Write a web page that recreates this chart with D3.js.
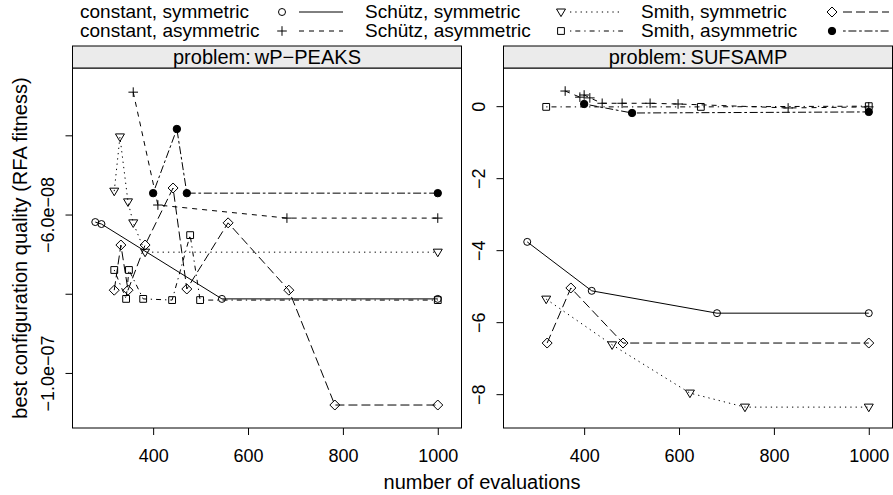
<!DOCTYPE html>
<html>
<head>
<meta charset="utf-8">
<script src="https://cdn.jsdelivr.net/npm/d3@7"></script>
<style>
  body { margin: 0; background: #fff; }
  svg text { font-family: "Liberation Sans", Arial, Helvetica, sans-serif; fill: #000; }
</style>
</head>
<body>
<svg id="chart" width="893" height="495"></svg>
<script>
// legend order: constant sym, constant asym, Schütz sym, Schütz asym, Smith sym, Smith asym
var seriesNames = ['constant, symmetric', 'constant, asymmetric', 'Schütz, symmetric',
                   'Schütz, asymmetric', 'Smith, symmetric', 'Smith, asymmetric'];

// problem wP-PEAKS  [evaluations, fitness]
var peaksConstSym  = [[278, -6.19e-8], [291, -6.24e-8], [545, -8.13e-8], [1000, -8.13e-8]];
var peaksConstAsym = [[358, -2.91e-8], [410, -5.76e-8], [682, -6.09e-8], [1000, -6.09e-8]];
var peaksSchSym    = [[318, -5.41e-8], [330, -4.04e-8], [347, -5.68e-8], [358, -6.21e-8], [383, -6.95e-8], [1000, -6.95e-8]];
var peaksSchAsym   = [[318, -7.40e-8], [343, -8.13e-8], [349, -7.40e-8], [379, -8.13e-8], [440, -8.16e-8], [478, -6.52e-8], [499, -8.16e-8], [1000, -8.16e-8]];
var peaksSmSym     = [[318, -7.91e-8], [332, -6.77e-8], [347, -7.91e-8], [383, -6.77e-8], [442, -5.33e-8], [471, -7.88e-8], [558, -6.21e-8], [686, -7.91e-8], [783, -1.081e-7], [1000, -1.081e-7]];
var peaksSmAsym    = [[400, -5.46e-8], [450, -3.84e-8], [471, -5.46e-8], [1000, -5.46e-8]];

// problem SUFSAMP
var sufConstSym  = [[280, -3.77], [416, -5.13], [680, -5.75], [1000, -5.75]];
var sufConstAsym = [[360, 0.42], [391, 0.25], [400, 0.31], [412, 0.23], [438, 0.08], [480, 0.08], [539, 0.08], [598, 0.06], [830, -0.05], [1000, -0.02]];
var sufSchSym    = [[320, -5.36], [459, -6.63], [623, -7.97], [739, -8.36], [1000, -8.36]];
var sufSchAsym   = [[320, -0.02], [646, -0.02], [1000, 0.0]];
var sufSmSym     = [[322, -6.58], [372, -5.05], [482, -6.58], [1000, -6.58]];
var sufSmAsym    = [[400, 0.06], [501, -0.19], [1000, -0.16]];

var xDomain = [230, 1050];
var xTicks = [400, 600, 800, 1000];
var peaksDomain = [-1.139e-7, -2.30e-8];
var peaksTicks = [-1e-7, -8e-8, -6e-8, -4e-8];
var peaksTickLabels = ['\u22121.0e\u221207', '', '\u22126.0e\u221208', ''];
var sufDomain = [-8.94, 1.06];
var sufTicks = [-8, -6, -4, -2, 0];

var panels = [
  { title: 'problem:\u2009wP\u2212PEAKS', domain: peaksDomain, ticks: peaksTicks,
    fmt: function (d) { return peaksTickLabels[peaksTicks.indexOf(d)]; },
    series: [peaksConstSym, peaksConstAsym, peaksSchSym, peaksSchAsym, peaksSmSym, peaksSmAsym] },
  { title: 'problem:\u2009SUFSAMP', domain: sufDomain, ticks: sufTicks,
    fmt: d3.format('d'),
    series: [sufConstSym, sufConstAsym, sufSchSym, sufSchAsym, sufSmSym, sufSmAsym] }
];

// styles
var shapes = ['circle', 'plus', 'triangle', 'square', 'diamond', 'dot'];
var dashes = [null, '5,5', '1.3,4', '1.3,4,5,4', '9,4', '2.7,2.7,8,2.7'];
var panelX = [[72.5, 461.5], [503.5, 892.5]];
var stripTop = 46, panelTop = 68, panelBottom = 428;

var svg = d3.select('#chart');

function markerPath(shape) {
  switch (shape) {
    case 'circle': return 'M3.5,0A3.5,3.5 0 1,1 -3.5,0A3.5,3.5 0 1,1 3.5,0Z';
    case 'dot': return 'M3.7,0A3.7,3.7 0 1,1 -3.7,0A3.7,3.7 0 1,1 3.7,0Z';
    case 'plus': return 'M-4.8,0H4.8M0,-4.8V4.8';
    case 'triangle': return 'M-4.5,-3L4.5,-3L0,4.6Z';
    case 'square': return 'M-3.4,-3.4H3.4V3.4H-3.4Z';
    case 'diamond': return 'M0,-5L5,0L0,5L-5,0Z';
  }
}

function addMarker(sel, i) {
  sel.attr('d', markerPath(shapes[i]))
    .attr('fill', shapes[i] === 'dot' ? '#000' : 'none')
    .attr('stroke', '#000')
    .attr('stroke-width', 1);
}

panels.forEach(function (p, k) {
  var x = d3.scaleLinear().domain(xDomain).range(panelX[k]);
  var y = d3.scaleLinear().domain(p.domain).range([panelBottom, panelTop]);
  var g = svg.append('g');

  var line = d3.line()
    .x(function (d) { return x(d[0]); })
    .y(function (d) { return y(d[1]); });

  p.series.forEach(function (data, i) {
    g.append('path')
      .datum(data)
      .attr('d', line)
      .attr('fill', 'none')
      .attr('stroke', '#000')
      .attr('stroke-width', 1)
      .attr('stroke-dasharray', dashes[i]);

    g.selectAll(null)
      .data(data)
      .enter()
      .append('path')
      .attr('transform', function (d) { return 'translate(' + x(d[0]) + ',' + y(d[1]) + ')'; })
      .call(addMarker, i);
  });

  // panel box
  g.append('rect')
    .attr('x', panelX[k][0]).attr('y', panelTop)
    .attr('width', panelX[k][1] - panelX[k][0]).attr('height', panelBottom - panelTop)
    .attr('fill', 'none').attr('stroke', '#000');

  // strip
  g.append('rect')
    .attr('x', panelX[k][0]).attr('y', stripTop)
    .attr('width', panelX[k][1] - panelX[k][0]).attr('height', panelTop - stripTop)
    .attr('fill', '#ebebeb').attr('stroke', '#000');
  g.append('text')
    .attr('x', (panelX[k][0] + panelX[k][1]) / 2)
    .attr('y', 64)
    .attr('text-anchor', 'middle')
    .style('font-size', '20px')
    .text(p.title);

  // x axis
  var xa = g.append('g')
    .attr('transform', 'translate(0,' + panelBottom + ')')
    .call(d3.axisBottom(x).tickValues(xTicks).tickSize(7).tickPadding(14).tickFormat(d3.format('d')));
  xa.select('.domain').remove();
  xa.selectAll('text').style('font-size', '18px').attr('font-family', null);

  // y axis, labels turned like R
  var ya = g.append('g')
    .attr('transform', 'translate(' + panelX[k][0] + ',0)')
    .call(d3.axisLeft(y).tickValues(p.ticks).tickSize(7).tickFormat(p.fmt));
  ya.select('.domain').remove();
  ya.selectAll('text')
    .attr('x', null).attr('dy', null)
    .attr('text-anchor', 'middle')
    .attr('transform', 'translate(-19,0) rotate(-90)')
    .style('font-size', '18px');
});

// axis titles
svg.append('text')
  .attr('x', 482).attr('y', 489)
  .attr('text-anchor', 'middle')
  .style('font-size', '20px')
  .text('number of evaluations');

svg.append('text')
  .attr('transform', 'translate(27,' + (panelTop + panelBottom) / 2 + ') rotate(-90)')
  .attr('text-anchor', 'middle')
  .style('font-size', '20px')
  .text('best configuration quality (RFA fitness)');

// legend, two rows by three columns
var keyTextX = [80, 365, 641];
var keySymX = [282, 561, 832];
var keyLine = [[299, 343], [570, 623], [843, 889]];
var keyRowY = [12, 31];

seriesNames.forEach(function (name, i) {
  var col = Math.floor(i / 2), row = i % 2;
  var cy = keyRowY[row];
  svg.append('text')
    .attr('x', keyTextX[col]).attr('y', cy + 6)
    .style('font-size', '19px')
    .text(name);
  svg.append('path')
    .attr('transform', 'translate(' + keySymX[col] + ',' + cy + ')')
    .call(addMarker, i);
  svg.append('line')
    .attr('x1', keyLine[col][0]).attr('x2', keyLine[col][1])
    .attr('y1', cy).attr('y2', cy)
    .attr('stroke', '#000').attr('stroke-width', 1)
    .attr('stroke-dasharray', dashes[i]);
});
</script>
</body>
</html>
